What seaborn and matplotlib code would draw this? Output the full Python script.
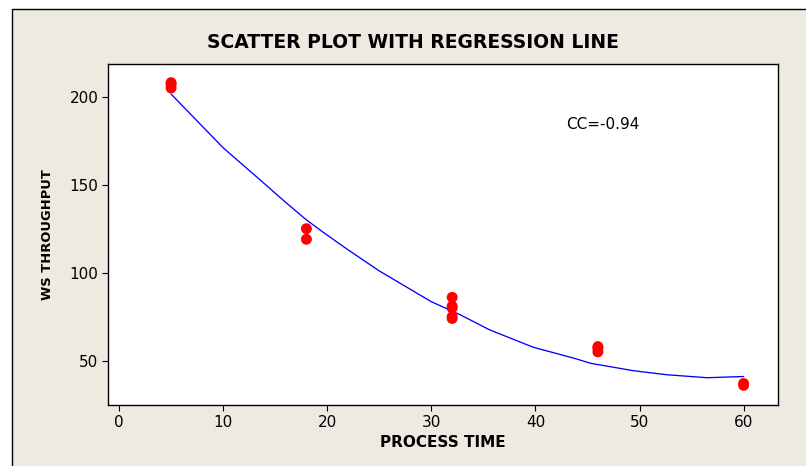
import matplotlib
matplotlib.use('Agg')
import matplotlib.pyplot as plt
from matplotlib.patches import Rectangle
import pandas as pd
import seaborn as sns

process_time = [5, 5, 5, 18, 18, 32, 32, 32, 32, 32, 46, 46, 46, 60, 60]
ws_throughput = [208, 207, 205, 125, 119, 86, 81, 80, 75, 74, 58, 57, 55, 37, 36]

# fitted curve as drawn in the picture
fit_time = [5, 10, 13.5, 16, 18, 19.6, 22, 25, 27, 30, 32.8, 35.6, 39.8,
            43.7, 45.3, 49.4, 52.6, 56.5, 60]
fit_throughput = [201.5, 171, 153, 140, 130, 123, 113, 101, 94, 83.5, 76,
                  67.5, 57.6, 51.4, 48.5, 44.3, 42, 40.3, 41]

x_ticks = [0, 10, 20, 30, 40, 50, 60]
y_ticks = [50, 100, 150, 200]
cc_text = 'CC=-0.94'

pts = pd.DataFrame({'x': process_time, 'y': ws_throughput})
fit = pd.DataFrame({'x': fit_time, 'y': fit_throughput})

sns.set_style('white')
plt.rcParams['font.family'] = ['DejaVu Sans']
plt.rcParams['text.color'] = 'black'
plt.rcParams['axes.labelcolor'] = 'black'

fig = plt.figure(figsize=(8.06, 4.66), dpi=100, facecolor='white')
# beige frame like the minitab graph window
fig.patches.append(Rectangle((11.5 / 806, -0.05), 1.0, 1.05 - 9.5 / 466,
                             transform=fig.transFigure, facecolor='#eeeae1',
                             edgecolor='black', linewidth=1.0, zorder=-5))

ax = fig.add_axes([108 / 806, 1 - 405 / 466, 670 / 806, 341 / 466])
ax.set_facecolor('white')
ax.set_zorder(2)

sns.lineplot(data=fit, x='x', y='y', ax=ax, color='#0000ff', linewidth=0.95,
             sort=False, estimator=None)
sns.scatterplot(data=pts, x='x', y='y', ax=ax, color='#ff0000', s=62,
                edgecolor='none', zorder=3)

ax.set_xlim(-1.06, 63.3)
ax.set_ylim(24.8, 218.6)
ax.set_xticks(x_ticks)
ax.set_yticks(y_ticks)
ax.tick_params(axis='both', direction='out', length=4, width=0.8,
               labelsize=11, pad=3, colors='black', bottom=True, left=True)
for sp in ax.spines.values():
    sp.set_color('black')
    sp.set_linewidth(1.0)

ax.set_xlabel('PROCESS TIME', fontsize=11, fontweight='bold', labelpad=4)
ax.set_ylabel('WS THROUGHPUT', fontsize=9.4, fontweight='bold', labelpad=11)

ax.text(42.9, 184.5, cc_text, fontsize=11, va='center', ha='left')

fig.text(413 / 806, 1 - 42 / 466, 'SCATTER PLOT WITH REGRESSION LINE',
         fontsize=13.5, fontweight='bold', ha='center', va='center')

fig.savefig('out.png', dpi=100, facecolor=fig.get_facecolor())
